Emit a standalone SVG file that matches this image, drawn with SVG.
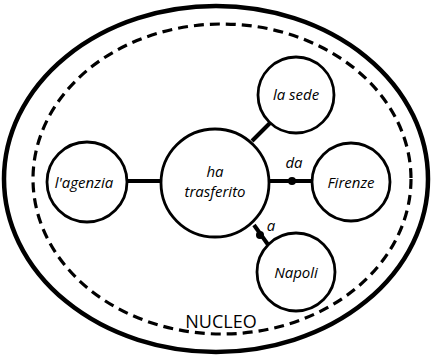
<svg xmlns="http://www.w3.org/2000/svg" width="432" height="357" viewBox="0 0 432 357">
<style>
.node{fill:#fff;stroke:#000;stroke-width:2.8}
.lbl{font-family:"Open Sans","Liberation Sans",sans-serif;font-style:italic;font-size:15px;fill:#000;text-anchor:middle}
.conn{stroke:#000;stroke-width:4;fill:none}
</style>
<rect width="432" height="357" fill="#fff"/>
<g id="outer">
<ellipse cx="216" cy="179" rx="212" ry="173" fill="none" stroke="#000" stroke-width="4.5"/>
</g>
<g id="nucleo">
<ellipse cx="222" cy="179" rx="189" ry="155" fill="none" stroke="#000" stroke-width="3.2" stroke-dasharray="10,6"/>
<text x="221" y="328" font-family="'Open Sans','Liberation Sans',sans-serif" font-size="18" text-anchor="middle">NUCLEO</text>
</g>
<g id="connectors">
<line class="conn" x1="127" y1="181" x2="160" y2="181"/>
<line class="conn" x1="270" y1="181" x2="312" y2="181"/>
<circle cx="292" cy="181" r="4"/>
<text class="lbl" x="294" y="168">da</text>
<line class="conn" x1="252" y1="141" x2="271" y2="122"/>
<line class="conn" x1="254" y1="225" x2="269" y2="246"/>
<circle cx="260" cy="235" r="4"/>
<text class="lbl" x="271" y="231">a</text>
</g>
<g id="center">
<circle class="node" cx="215" cy="183" r="54"/>
<text class="lbl" x="215" y="177">ha</text>
<text class="lbl" x="215" y="197">trasferito</text>
</g>
<g id="agenzia">
<circle class="node" cx="87" cy="182" r="40"/>
<text class="lbl" x="84" y="188">l'agenzia</text>
</g>
<g id="sede">
<circle class="node" cx="296" cy="95" r="38"/>
<text class="lbl" x="296" y="100">la sede</text>
</g>
<g id="firenze">
<circle class="node" cx="351" cy="182" r="39"/>
<text class="lbl" x="351" y="188">Firenze</text>
</g>
<g id="napoli">
<circle class="node" cx="296" cy="272" r="39"/>
<text class="lbl" x="296" y="278">Napoli</text>
</g>
</svg>
